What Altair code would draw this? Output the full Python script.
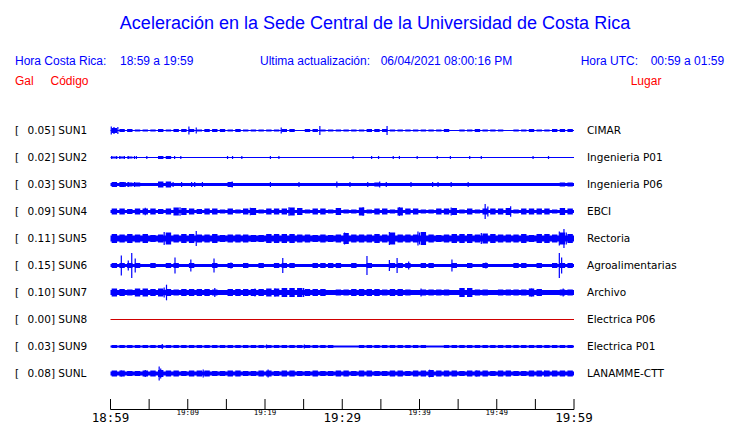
import altair as alt
import pandas as pd

# ---------------- data ----------------
stations = ["SUN1", "SUN2", "SUN3", "SUN4", "SUN5", "SUN6", "SUN7", "SUN8", "SUN9", "SUNL"]
places = ["CIMAR", "Ingenieria P01", "Ingenieria P06", "EBCI", "Rectoria",
          "Agroalimentarias", "Archivo", "Electrica P06", "Electrica P01", "LANAMME-CTT"]
peak_gal = ["0.05", "0.02", "0.03", "0.09", "0.11", "0.15", "0.10", "0.00", "0.03", "0.08"]

# quiet-level half amplitude of each trace
base_amp = [0.5, 0.5, 1.5, 1.5, 3, 1.5, 2.5, 0.5, 1, 2]

# per-minute envelope (half amplitude) of each trace, minutes 0..59
env_SUN1 = [2.5, 1.5, 1.5, 1, 1, 1, 1.5, 1, 1.5, 1.5,
            1.5, 1, 1.5, 1.5, 1.5, 1, 1.5, 1, 1, 1,
            1, 1, 1.5, 1.5, 0.5, 1.5, 1.5, 1, 1, 1,
            1, 1, 1, 1.5, 1.5, 1.5, 1, 1, 1, 1,
            1, 1, 1, 1.5, 0.5, 1, 1, 1.5, 1, 1,
            1, 0.5, 1, 1, 1.5, 1, 1, 1.5, 1.5, 1.5]
env_SUN2 = [1, 1, 1, 0.5, 0.5, 0.5, 1.5, 1.5, 0.5, 0.5,
            0.5, 0.5, 0.5, 0.5, 0.5, 0.5, 0.5, 0.5, 0.5, 0.5,
            0.5, 0.5, 0.5, 0.5, 0.5, 0.5, 0.5, 0.5, 0.5, 0.5,
            0.5, 0.5, 0.5, 0.5, 0.5, 0.5, 0.5, 0.5, 0.5, 0.5,
            0.5, 0.5, 0.5, 0.5, 0.5, 0.5, 0.5, 0.5, 0.5, 0.5,
            0.5, 0.5, 0.5, 0.5, 0.5, 0.5, 0.5, 0.5, 0.5, 0.5]
env_SUN3 = [2.5, 2.5, 2, 2, 1.5, 1.5, 3, 3, 1.5, 1.5,
            1.5, 1.5, 1.5, 1.5, 1.5, 2.5, 1.5, 1.5, 1.5, 1.5,
            1.5, 1.5, 1.5, 1.5, 1.5, 1.5, 1.5, 1.5, 1.5, 1.5,
            1.5, 1.5, 1.5, 1.5, 2, 1.5, 1.5, 1.5, 1.5, 1.5,
            1.5, 1.5, 1.5, 1.5, 1.5, 1.5, 1.5, 1.5, 1.5, 1.5,
            1.5, 1.5, 1.5, 1.5, 1.5, 1.5, 1.5, 1.5, 2, 2]
env_SUN4 = [3, 3, 2.5, 3, 3, 3, 2.5, 3, 4, 3.5,
            3, 2.5, 3, 3, 2, 3, 2, 3, 3.5, 2,
            3, 3, 3, 4, 3.5, 2, 3, 3, 2, 3.5,
            2, 2, 4, 2, 3, 3, 2, 4, 3, 3,
            2, 2, 3, 3, 3.5, 2, 3, 2, 3, 3,
            3, 3.5, 2, 3, 3, 3, 3, 2, 3.5, 3]
env_SUN5 = [4.5, 4, 4.5, 4, 4.5, 3.5, 4, 6, 4, 4.5,
            4.5, 4, 4, 4.5, 3.5, 4, 4, 4, 3.5, 3.5,
            4.5, 4.5, 4.5, 4.5, 4, 4, 3.5, 4, 3.5, 4,
            5.5, 4, 4, 4, 4.5, 4, 6, 4, 4, 4,
            6.5, 4, 3.5, 4, 4.5, 4.5, 4.5, 4, 5, 4.5,
            4, 4, 4, 4.5, 3.5, 4.5, 4.5, 4, 6, 4.5]
env_SUN6 = [2.5, 2.5, 2.5, 2.5, 1.5, 2.5, 1.5, 2.5, 2.5, 1.5,
            2.5, 1.5, 1.5, 2.5, 1.5, 2.5, 1.5, 2.5, 1.5, 2.5,
            1.5, 2.5, 2.5, 2.5, 1.5, 1.5, 2.5, 2.5, 2.5, 2.5,
            1.5, 2.5, 1.5, 2.5, 1.5, 1.5, 2.5, 2.5, 2.5, 1.5,
            2.5, 2.5, 1.5, 1.5, 2.5, 1.5, 2.5, 1.5, 2.5, 1.5,
            1.5, 1.5, 2.5, 2.5, 1.5, 2.5, 1.5, 2.5, 2.5, 2.5]
env_SUN7 = [4, 3.5, 3, 4, 4, 3.5, 4, 3.5, 3, 3.5,
            3.5, 3.5, 3.5, 3, 2.5, 3.5, 3.5, 3.5, 3.5, 3.5,
            4, 4, 4.5, 4.5, 4.5, 3.5, 3.5, 3.5, 2.5, 3,
            3, 3.5, 3.5, 3.5, 3.5, 3, 3.5, 3.5, 3, 2.5,
            3, 3, 3, 3, 2.5, 4.5, 4.5, 3, 3, 2.5,
            3, 3, 3, 3, 4, 3.5, 2.5, 2.5, 3, 3]
env_SUN8 = [0.5, 0.5, 0.5, 0.5, 0.5, 0.5, 0.5, 0.5, 0.5, 0.5,
            0.5, 0.5, 0.5, 0.5, 0.5, 0.5, 0.5, 0.5, 0.5, 0.5,
            0.5, 0.5, 0.5, 0.5, 0.5, 0.5, 0.5, 0.5, 0.5, 0.5,
            0.5, 0.5, 0.5, 0.5, 0.5, 0.5, 0.5, 0.5, 0.5, 0.5,
            0.5, 0.5, 0.5, 0.5, 0.5, 0.5, 0.5, 0.5, 0.5, 0.5,
            0.5, 0.5, 0.5, 0.5, 0.5, 0.5, 0.5, 0.5, 0.5, 0.5]
env_SUN9 = [1.5, 1.5, 1.5, 1.5, 1.5, 1.5, 1.5, 1.5, 1.5, 1.5,
            1.5, 1.5, 1.5, 1.5, 1.5, 1.5, 1.5, 1.5, 1.5, 1.5,
            1.5, 1.5, 1.5, 1.5, 1.5, 1.5, 1.5, 1.5, 1.5, 1,
            1, 1, 1.5, 1.5, 1.5, 1.5, 1.5, 1.5, 1.5, 1.5,
            1.5, 1, 1, 1.5, 1.5, 1.5, 1.5, 1.5, 1.5, 1.5,
            1.5, 1.5, 1.5, 1.5, 1.5, 1.5, 1.5, 1.5, 1.5, 1.5]
env_SUNL = [3, 3, 2.5, 2.5, 3, 3, 3.5, 3, 3, 2.5,
            3, 3, 3, 2.5, 2.5, 3, 3, 2.5, 2.5, 3,
            3, 2.5, 3, 3, 2.5, 2.5, 3, 2.5, 2.5, 3,
            3, 2.5, 3, 3, 2.5, 2.5, 3, 3, 2.5, 3,
            3, 3.5, 3, 3, 3, 2.5, 3, 3, 3, 2.5,
            3, 3, 2.5, 2.5, 3, 3, 3, 3, 3, 3]

# isolated spikes: (minute after 18:59, half amplitude)
spk_SUN1 = [(0.1, 4), (0.45, 3.5), (0.95, 3.5), (10.15, 4), (11.1, 3), (22.1, 3),
            (27.1, 4.5), (35.8, 4.5)]
spk_SUN2 = [(0.15, 1.5), (0.8, 1.5), (1.2, 1.5), (1.8, 1.5), (2.3, 1.5), (3.1, 1.5),
            (3.35, 1.5), (4.7, 1.5), (7.7, 1.5), (8.3, 1.5), (9.1, 1.5), (15.15, 1.5),
            (15.8, 1.5), (17.0, 1.5), (20.7, 1.5), (21.8, 1.5), (31.4, 1.5), (33.8, 1.5),
            (34.7, 1.5), (36.6, 1.5), (37.4, 1.5), (39.7, 1.5), (42.3, 1.5), (44.0, 1.5),
            (46.5, 1.5), (48.0, 1.5), (54.7, 1.5), (56.7, 1.5)]
spk_SUN3 = [(1.9, 2.5), (2.3, 2.5), (3.1, 2.5), (8.1, 2.5), (9.2, 2.5), (10.5, 2.5),
            (10.9, 2.5), (11.9, 2.5), (15.75, 3), (20.7, 2.5), (24.4, 2.5), (29.3, 3),
            (31.0, 2.5), (33.3, 2.5), (34.85, 3), (35.7, 2.5), (38.9, 2.5), (41.7, 2.5),
            (42.4, 2.5), (44.1, 2.5), (46.3, 2.5)]
spk_SUN4 = [(4.5, 3.8), (9.0, 4.2), (18.1, 3.8), (23.1, 4.2), (32.7, 4.2), (37.4, 4.3),
            (44.1, 4), (48.5, 7.5), (48.85, 5), (51.8, 5.3)]
spk_SUN5 = [(6.95, 6.5), (7.25, 5.5), (11.1, 7.5), (30.3, 6), (36.1, 6.5), (39.8, 7),
            (40.0, 6), (48.0, 5.5), (58.1, 7), (58.7, 9.5), (59.0, 6)]
spk_SUN6 = [(1.4, 10), (2.3, 5), (2.75, 12.5), (3.2, 7), (8.35, 8), (10.4, 6), (13.4, 7),
            (15.6, 3), (22.3, 7.5), (33.2, 9.5), (36.1, 5.5), (37.1, 7.5), (38.6, 4),
            (44.2, 6), (48.6, 3), (58.1, 12.5), (58.4, 8)]
spk_SUN7 = [(6.95, 5), (7.25, 7.8), (13.5, 4.5), (18.7, 4), (21.3, 4), (22.8, 4.5),
            (25.0, 4.5), (40.2, 4), (45.6, 4.5), (54.5, 4), (58.6, 4)]
spk_SUN8 = []
spk_SUN9 = [(6.7, 2.5), (20.2, 2), (25.1, 2)]
spk_SUNL = [(1.4, 3), (4.5, 3.5), (6.3, 7), (6.5, 5), (12.0, 4), (20.4, 4), (41.3, 3.8),
            (47.4, 3), (56.2, 3)]

envelopes = [env_SUN1, env_SUN2, env_SUN3, env_SUN4, env_SUN5,
             env_SUN6, env_SUN7, env_SUN8, env_SUN9, env_SUNL]
spikes = [spk_SUN1, spk_SUN2, spk_SUN3, spk_SUN4, spk_SUN5,
          spk_SUN6, spk_SUN7, spk_SUN8, spk_SUN9, spk_SUNL]

tick_minutes = [0, 5, 10, 15, 20, 25, 30, 35, 40, 45, 50, 55, 60]
label_minutes = [0, 10, 20, 30, 40, 50, 60]
label_texts = ["18:59", "19:09", "19:19", "19:29", "19:39", "19:49", "19:59"]
label_big = [True, False, False, True, False, False, True]

# ---------------- build tables ----------------
SPACING = 27  # amplitude units between neighbouring traces
band_rows, env_rows, spike_rows, lab_rows = [], [], [], []
for i, st in enumerate(stations):
    c = i * SPACING
    b = base_amp[i]
    band_rows.append(dict(station=st, x0=0, x1=60, y0=c - b, y1=c + b))
    for m, a in enumerate(envelopes[i]):
        if a > b:
            env_rows.append(dict(station=st, x0=m + 0.15, x1=m + 0.85, y0=c - a, y1=c + a))
    for t, a in spikes[i]:
        spike_rows.append(dict(station=st, x=t, y0=c - a, y1=c + a))
    lab_rows.append(dict(station=st, yc=c, left=f"{peak_gal[i]}] {st}", place=places[i]))

df_band = pd.DataFrame(band_rows)
df_env = pd.DataFrame(env_rows)
df_spk = pd.DataFrame(spike_rows)
df_lab = pd.DataFrame(lab_rows)
df_ticks = pd.DataFrame({"minute": tick_minutes})
df_axis = pd.DataFrame({"x0": [tick_minutes[0]], "x1": [tick_minutes[-1]]})
df_tl = pd.DataFrame({"minute": label_minutes, "text": label_texts, "big": label_big})
one = pd.DataFrame({"k": [0]})

BLUE = "#0000ff"
RED = "#ff0000"
TRACE_RED = "#d00000"

XS = alt.Scale(domain=[0, 60], range=[102.5, 566], nice=False, zero=False)
YS = alt.Scale(domain=[0, 9 * SPACING], range=[122.5, 365.5], nice=False, zero=False)

trace_color = alt.condition("datum.station == 'SUN8'", alt.value(TRACE_RED), alt.value(BLUE))

band = alt.Chart(df_band).mark_rect().encode(
    x=alt.X("x0:Q", scale=XS, axis=None), x2="x1:Q",
    y=alt.Y("y0:Q", scale=YS, axis=None), y2="y1:Q",
    color=trace_color)
env = alt.Chart(df_env).mark_rect().encode(
    x=alt.X("x0:Q", scale=XS, axis=None), x2="x1:Q",
    y=alt.Y("y0:Q", scale=YS, axis=None), y2="y1:Q",
    color=trace_color)
spk = alt.Chart(df_spk).mark_rule(strokeWidth=1.2).encode(
    x=alt.X("x:Q", scale=XS, axis=None),
    y=alt.Y("y0:Q", scale=YS, axis=None), y2="y1:Q",
    color=trace_color)

lab_font = "DejaVu Sans"
left_br = alt.Chart(df_lab).mark_text(text="[", align="left", baseline="middle",
                                      font=lab_font, fontSize=10.5, color="#000000").encode(
    x=alt.value(7), y=alt.Y("yc:Q", scale=YS, axis=None))
left_lab = alt.Chart(df_lab).mark_text(align="left", baseline="middle",
                                       font=lab_font, fontSize=10.5, color="#000000").encode(
    x=alt.value(19.5), y=alt.Y("yc:Q", scale=YS, axis=None), text="left:N")
right_lab = alt.Chart(df_lab).mark_text(align="left", baseline="middle",
                                        font=lab_font, fontSize=10.5, color="#000000").encode(
    x=alt.value(579), y=alt.Y("yc:Q", scale=YS, axis=None), text="place:N")

ticks = alt.Chart(df_ticks).mark_rule(color="#000000", strokeWidth=1).encode(
    x=alt.X("minute:Q", scale=XS, axis=None), y=alt.value(391), y2=alt.value(401.5))
axis_line = alt.Chart(df_axis).mark_rule(color="#000000", strokeWidth=1).encode(
    x=alt.X("x0:Q", scale=XS, axis=None), x2="x1:Q", y=alt.value(401.5))
big_lab = alt.Chart(df_tl).transform_filter("datum.big").mark_text(
    font="DejaVu Sans Mono", fontSize=12.5, align="center", baseline="alphabetic",
    color="#000000").encode(x=alt.X("minute:Q", scale=XS, axis=None), y=alt.value(413.5),
                            text="text:N")
small_lab = alt.Chart(df_tl).transform_filter("!datum.big").mark_text(
    font="DejaVu Sans Mono", fontSize=7.5, align="center", baseline="alphabetic",
    color="#000000").encode(x=alt.X("minute:Q", scale=XS, axis=None), y=alt.value(406.8),
                            text="text:N")


def header(text, x, y, size, color, align="left"):
    return alt.Chart(one).mark_text(text=text, align=align, baseline="alphabetic",
                                    font="Liberation Sans", fontSize=size, color=color).encode(
        x=alt.value(x), y=alt.value(y))


headers = [
    header("Aceleración en la Sede Central de la Universidad de Costa Rica", 367, 21.3, 18, BLUE, "center"),
    header("Hora Costa Rica:", 7, 57, 12, BLUE),
    header("18:59 a 19:59", 112, 57, 12, BLUE),
    header("Ultima actualización:", 252, 57, 12, BLUE),
    header("06/04/2021 08:00:16 PM", 372.7, 57, 12, BLUE),
    header("Hora UTC:", 572.7, 57, 12, BLUE),
    header("00:59 a 01:59", 642.7, 57, 12, BLUE),
    header("Gal", 7, 77, 12, RED),
    header("Código", 42.5, 77, 12, RED),
    header("Lugar", 622.7, 77, 12, RED),
]

chart = alt.layer(band, env, spk, left_br, left_lab, right_lab, ticks, axis_line,
                  big_lab, small_lab, *headers).properties(
    width=724, height=415,
    autosize=alt.AutoSizeParams(type="none"),
    padding={"left": 0, "top": 0, "right": 0, "bottom": 0},
    background="#ffffff",
).configure_view(stroke=None)

chart.save("out.html", embed_options={"renderer": "svg", "actions": False})
